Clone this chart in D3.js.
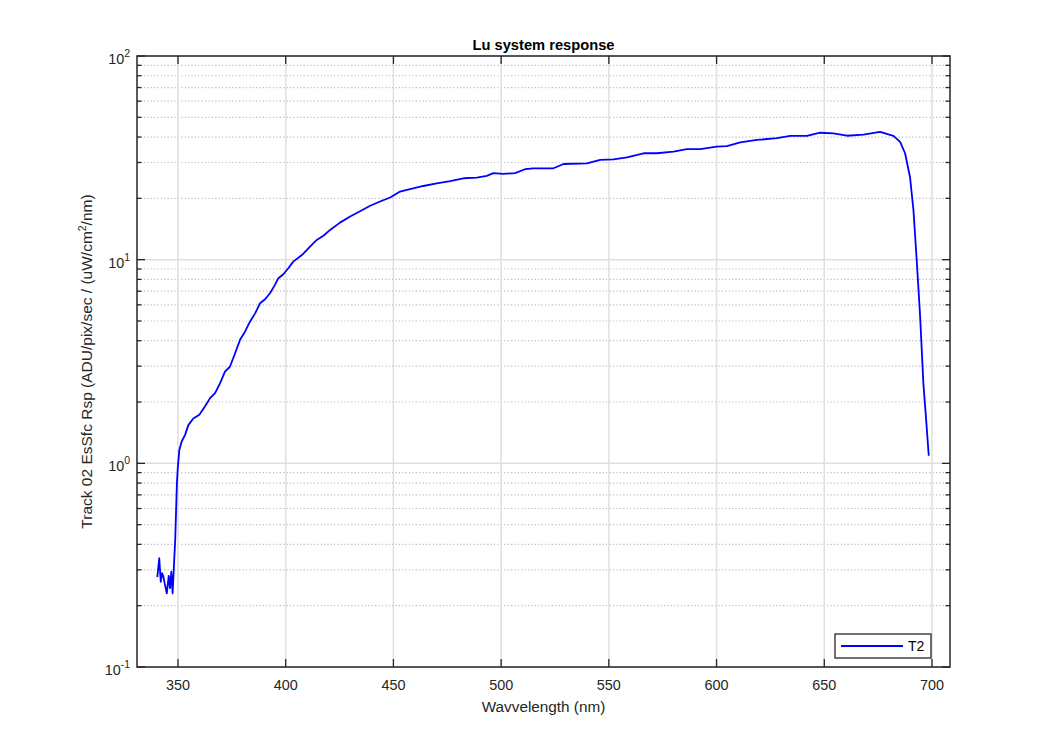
<!DOCTYPE html>
<html>
<head>
<meta charset="utf-8">
<script src="https://cdn.jsdelivr.net/npm/d3@7"></script>
<style>
  html, body { margin: 0; padding: 0; background: #ffffff; }
  svg { display: block; font-family: "Liberation Sans", Arial, Helvetica, sans-serif; }
</style>
</head>
<body>
<svg id="chart" width="1050" height="750"></svg>
<script>
// ---- data ----
const titleText = "Lu system response";
const xLabelText = "Wavvelength (nm)";
const seriesName = "T2";
const xTicks = [350, 400, 450, 500, 550, 600, 650, 700];
const yDecades = [0.1, 1, 10, 100];
const yDecadeLabels = ["-1", "0", "1", "2"];
const wavelength = [
  340.4, 341.3, 342.0, 342.6, 343.2, 343.8, 344.8, 345.7, 346.3, 346.9, 347.5, 348.1, 348.7,
  349.5, 349.9, 350.6, 351.7, 353.3, 354.8, 357.1, 359.9, 362.5, 364.9, 367.2, 369.5, 371.8,
  374.1, 376.5, 378.8, 381.1, 383.4, 385.8, 388.1, 390.4, 392.7, 395.0, 396.6, 398.9, 401.2,
  403.5, 406.3, 408.2, 411.3, 414.4, 417.5, 420.6, 425.2, 429.9, 434.5, 439.2, 443.8, 448.5,
  453.1, 457.7, 463.9, 470.1, 476.3, 482.5, 488.7, 493.3, 496.4, 501.0, 506.5, 511.1, 515.0,
  524.3, 529.0, 539.8, 546.0, 552.2, 558.4, 566.1, 572.3, 580.0, 586.2, 592.4, 600.1, 604.8,
  611.0, 618.7, 628.0, 634.2, 641.9, 648.1, 654.3, 660.5, 668.2, 675.9, 682.1, 685.2, 687.5,
  689.8, 691.4, 692.9, 694.5, 696.0, 697.3, 698.5
];
const response = [
  0.276, 0.342, 0.262, 0.289, 0.279, 0.258, 0.230, 0.280, 0.244, 0.294, 0.230, 0.311, 0.420,
  0.80, 0.95, 1.16, 1.28, 1.38, 1.54, 1.66, 1.73, 1.90, 2.09, 2.21, 2.47, 2.82,
  2.98, 3.47, 4.04, 4.43, 4.96, 5.45, 6.11, 6.39, 6.84, 7.52, 8.11, 8.48, 9.08,
  9.78, 10.3, 10.7, 11.6, 12.5, 13.1, 14.0, 15.2, 16.3, 17.3, 18.4, 19.3, 20.2,
  21.6, 22.2, 23.0, 23.7, 24.3, 25.1, 25.3, 25.8, 26.6, 26.4, 26.6, 27.8, 28.1,
  28.1, 29.5, 29.7, 30.9, 31.1, 31.8, 33.3, 33.3, 33.9, 34.9, 34.9, 35.9, 36.1,
  37.7, 38.7, 39.5, 40.5, 40.5, 42.0, 41.7, 40.6, 41.1, 42.4, 40.5, 37.9, 33.3,
  25.4, 17.5, 9.97, 5.25, 2.47, 1.63, 1.09
];

// ---- layout ----
const L = 137, R = 950, T = 56, B = 667;
const svg = d3.select("#chart");
const x = d3.scaleLinear().domain([330.97, 708.36]).range([L, R]);
const y = d3.scaleLog().domain([0.1, 100]).range([B, T]);
const axisColor = "#262626";

// minor values
const minorVals = [];
for (let d = 0.1; d < 100; d *= 10) {
  for (let k = 2; k <= 9; k++) minorVals.push(+(d * k).toPrecision(3));
}

// grids
const g = svg.append("g");
g.selectAll("line.minor").data(minorVals).enter().append("line")
  .attr("x1", L).attr("x2", R)
  .attr("y1", d => y(d)).attr("y2", d => y(d))
  .attr("stroke", "#bdbdbd").attr("stroke-width", 1.2)
  .attr("stroke-dasharray", "1.2,2.2");
g.selectAll("line.ymaj").data(yDecades).enter().append("line")
  .attr("x1", L).attr("x2", R)
  .attr("y1", d => y(d)).attr("y2", d => y(d))
  .attr("stroke", "#dfdfdf").attr("stroke-width", 1.5);
g.selectAll("line.xmaj").data(xTicks).enter().append("line")
  .attr("x1", d => x(d)).attr("x2", d => x(d))
  .attr("y1", T).attr("y2", B)
  .attr("stroke", "#dfdfdf").attr("stroke-width", 1.5);

// data line
const line = d3.line().x((d, i) => x(wavelength[i])).y(d => y(d));
svg.append("path").datum(response)
  .attr("d", line)
  .attr("fill", "none").attr("stroke", "#0000ff").attr("stroke-width", 1.8)
  .attr("stroke-linejoin", "round");

// ticks (inward, all four sides)
const tk = svg.append("g").attr("stroke", axisColor).attr("stroke-width", 1.3);
xTicks.forEach(v => {
  tk.append("line").attr("x1", x(v)).attr("x2", x(v)).attr("y1", B).attr("y2", B - 8);
  tk.append("line").attr("x1", x(v)).attr("x2", x(v)).attr("y1", T).attr("y2", T + 8);
});
yDecades.forEach(v => {
  tk.append("line").attr("x1", L).attr("x2", L + 8).attr("y1", y(v)).attr("y2", y(v));
  tk.append("line").attr("x1", R).attr("x2", R - 8).attr("y1", y(v)).attr("y2", y(v));
});
minorVals.forEach(v => {
  tk.append("line").attr("x1", L).attr("x2", L + 4.5).attr("y1", y(v)).attr("y2", y(v));
  tk.append("line").attr("x1", R).attr("x2", R - 4.5).attr("y1", y(v)).attr("y2", y(v));
});

// frame
svg.append("rect").attr("x", L).attr("y", T).attr("width", R - L).attr("height", B - T)
  .attr("fill", "none").attr("stroke", axisColor).attr("stroke-width", 1.5);

// x tick labels
svg.append("g").selectAll("text").data(xTicks).enter().append("text")
  .attr("x", d => x(d)).attr("y", B + 23)
  .attr("text-anchor", "middle").attr("font-size", 14.4).attr("fill", axisColor)
  .text(d => d);

// y tick labels 10^n
yDecades.forEach((v, i) => {
  const t = svg.append("text")
    .attr("x", L - 7).attr("y", y(v) + 8)
    .attr("text-anchor", "end").attr("font-size", 14.4).attr("fill", axisColor);
  t.append("tspan").text("10");
  t.append("tspan").attr("font-size", 10.5).attr("dy", -7).text(yDecadeLabels[i]);
});

// title
svg.append("text").attr("x", (L + R) / 2).attr("y", 50)
  .attr("text-anchor", "middle").attr("font-size", 14.7).attr("font-weight", "bold")
  .attr("fill", "#000").text(titleText);

// x label
svg.append("text").attr("x", (L + R) / 2).attr("y", 712)
  .attr("text-anchor", "middle").attr("font-size", 15.3).attr("fill", axisColor)
  .text(xLabelText);

// y label
const yl = svg.append("text")
  .attr("transform", `translate(92,${(T + B) / 2}) rotate(-90)`)
  .attr("text-anchor", "middle").attr("font-size", 15.5).attr("fill", axisColor);
yl.append("tspan").text("Track 02 EsSfc Rsp (ADU/pix/sec / (uW/cm");
yl.append("tspan").attr("font-size", 10.5).attr("dy", -6).text("2");
yl.append("tspan").attr("dy", 6).text("/nm)");

// legend
const lg = svg.append("g");
lg.append("rect").attr("x", 835).attr("y", 634).attr("width", 96).attr("height", 24)
  .attr("fill", "#fff").attr("stroke", axisColor).attr("stroke-width", 1.3);
lg.append("line").attr("x1", 841).attr("x2", 903).attr("y1", 646).attr("y2", 646)
  .attr("stroke", "#0000ff").attr("stroke-width", 1.8);
lg.append("text").attr("x", 908).attr("y", 651).attr("font-size", 14).attr("fill", "#000")
  .text(seriesName);
</script>
</body>
</html>
